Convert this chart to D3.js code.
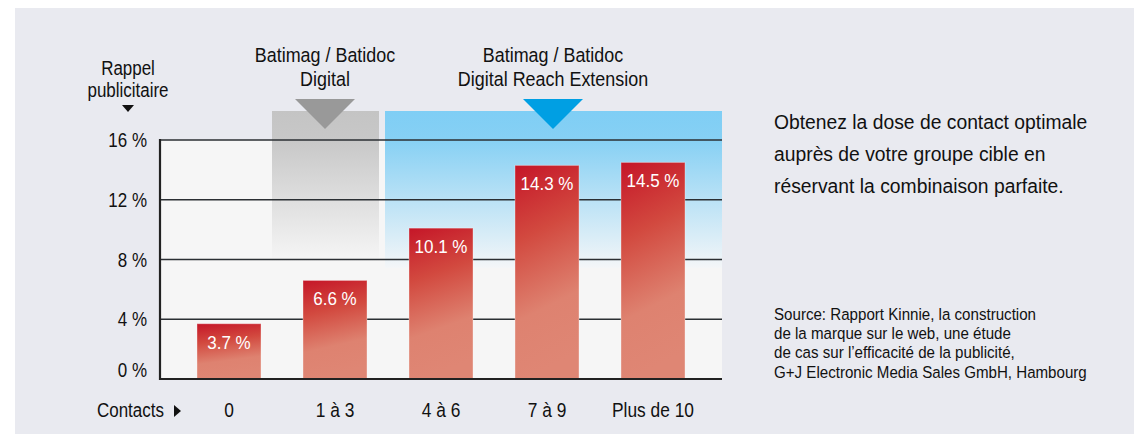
<!DOCTYPE html>
<html>
<head>
<meta charset="utf-8">
<script src="https://cdn.jsdelivr.net/npm/d3@7"></script>
<style>
  body { margin: 0; background: #fff; }
  svg text { font-family: "Liberation Sans", Arial, sans-serif; }
</style>
</head>
<body>
<svg></svg>
<script>
const categories = ['0', '1 à 3', '4 à 6', '7 à 9', 'Plus de 10'];
const values = [3.7, 6.6, 10.1, 14.3, 14.5];
const yTicks = [0, 4, 8, 12, 16];
const yTitle = ['Rappel', 'publicitaire'];
const grayTitle = ['Batimag / Batidoc', 'Digital'];
const blueTitle = ['Batimag / Batidoc', 'Digital Reach Extension'];
const sideText = ['Obtenez la dose de contact optimale', 'auprès de votre groupe cible en', 'réservant la combinaison parfaite.'];
const sourceText = ['Source: Rapport Kinnie, la construction', 'de la marque sur le web, une étude', 'de cas sur l’efficacité de la publicité,', 'G+J Electronic Media Sales GmbH, Hambourg'];

const width = 1135;
const height = 434;
const plot = { left: 160, right: 722, top: 140, bottom: 379 };

const svg = d3.select('svg').attr('width', width).attr('height', height);
const defs = svg.append('defs');

// condensed-looking text: taller font squeezed horizontally
function label(parent, px, py, lines, size, sx, opts = {}) {
  const t = parent.append('text')
    .attr('transform', 'translate(' + px + ',' + py + ') scale(' + sx + ',1)')
    .attr('text-anchor', opts.anchor || 'start')
    .attr('fill', opts.fill || '#111')
    .style('font-size', size + 'px');
  [].concat(lines).forEach((d, i) => {
    t.append('tspan').attr('x', 0).attr('dy', i ? (opts.lead || size * 1.2) : 0).text(d);
  });
  return t;
}

// background panel
svg.append('rect').attr('x', 15).attr('y', 8).attr('width', 1119).attr('height', height - 8).attr('fill', '#e9eaf0');

const x = d3.scaleBand().domain(categories).range([176, 706]).paddingInner(0.396).paddingOuter(0.198);
const y = d3.scaleLinear().domain([0, 16]).range([plot.bottom, plot.top]);

// gradients
const gGray = defs.append('linearGradient').attr('id', 'gray').attr('gradientUnits', 'userSpaceOnUse')
  .attr('x1', 0).attr('x2', 0).attr('y1', 111).attr('y2', 262);
gGray.append('stop').attr('offset', 0).attr('stop-color', '#c4c4c4');
gGray.append('stop').attr('offset', 0.2).attr('stop-color', '#c8c8c8');
gGray.append('stop').attr('offset', 1).attr('stop-color', '#f6f6f6');

const gBlue = defs.append('linearGradient').attr('id', 'blue').attr('gradientUnits', 'userSpaceOnUse')
  .attr('x1', 0).attr('x2', 0).attr('y1', 111).attr('y2', 268);
gBlue.append('stop').attr('offset', 0).attr('stop-color', '#7fcef5');
gBlue.append('stop').attr('offset', 0.18).attr('stop-color', '#86d0f4');
gBlue.append('stop').attr('offset', 1).attr('stop-color', '#f4f6f8');

const gBar = defs.append('linearGradient').attr('id', 'bar')
  .attr('x1', 0).attr('x2', 0.15).attr('y1', 0).attr('y2', 1);
gBar.append('stop').attr('offset', 0).attr('stop-color', '#c51628');
gBar.append('stop').attr('offset', 0.35).attr('stop-color', '#d2493f');
gBar.append('stop').attr('offset', 0.72).attr('stop-color', '#de8270');
gBar.append('stop').attr('offset', 1).attr('stop-color', '#df8674');

// plot background
svg.append('rect').attr('x', plot.left).attr('y', plot.top)
  .attr('width', plot.right - plot.left).attr('height', plot.bottom - plot.top).attr('fill', '#f6f6f6');

// highlight bands
svg.append('rect').attr('x', 272).attr('y', 111).attr('width', 107).attr('height', 151).attr('fill', 'url(#gray)');
svg.append('rect').attr('x', 385).attr('y', 111).attr('width', plot.right - 385).attr('height', 157).attr('fill', 'url(#blue)');

// gridlines
svg.append('g').selectAll('line').data(yTicks.filter(d => d > 0)).join('line')
  .attr('x1', plot.left).attr('x2', plot.right)
  .attr('y1', d => y(d)).attr('y2', d => y(d))
  .attr('stroke', '#2b2f33').attr('stroke-width', 1.5);

// bars
svg.append('g').selectAll('rect').data(values).join('rect')
  .attr('x', (d, i) => x(categories[i]))
  .attr('y', d => y(d))
  .attr('width', x.bandwidth())
  .attr('height', d => plot.bottom - y(d))
  .attr('fill', 'url(#bar)')
  .attr('stroke', 'rgba(255,255,255,0.35)').attr('stroke-width', 1);

const barLabels = svg.append('g');
values.forEach((d, i) => {
  label(barLabels, x(categories[i]) + x.bandwidth() / 2, y(d) + 25, d3.format('.1f')(d) + ' %', 18.5, 0.92,
    { anchor: 'middle', fill: '#fff' });
});

// axes lines
svg.append('line').attr('x1', plot.left).attr('x2', plot.left).attr('y1', plot.top - 1).attr('y2', plot.bottom + 1)
  .attr('stroke', '#222').attr('stroke-width', 2.2);
svg.append('line').attr('x1', plot.left - 1).attr('x2', plot.right).attr('y1', plot.bottom).attr('y2', plot.bottom)
  .attr('stroke', '#222').attr('stroke-width', 2.2);

// y tick labels
const yLabels = svg.append('g');
yTicks.forEach(d => {
  label(yLabels, 147, y(d) + (d === 0 ? -2 : 7), d + ' %', 19.5, 0.87, { anchor: 'end' });
});

// y title
label(svg, 128, 75, yTitle, 19.5, 0.87, { anchor: 'middle', lead: 22 });
svg.append('path').attr('d', d3.line()([[122, 105], [134, 105], [128, 112]])).attr('fill', '#111');

// x labels
const xLabels = svg.append('g');
categories.forEach(d => {
  label(xLabels, x(d) + x.bandwidth() / 2, 417, d, 19.5, 0.89, { anchor: 'middle' });
});
label(svg, 97, 417, 'Contacts', 19.5, 0.87);
svg.append('path').attr('d', d3.line()([[174, 405], [181, 411], [174, 417]])).attr('fill', '#111');

// band titles and markers
function bandTitle(lines, cx, color) {
  label(svg, cx, 62, lines, 19.5, 0.92, { anchor: 'middle', lead: 24 });
  svg.append('path').attr('d', d3.line()([[cx - 30, 99], [cx + 30, 99], [cx, 129]])).attr('fill', color);
}
bandTitle(grayTitle, 325, '#999999');
bandTitle(blueTitle, 553, '#009fe3');

// side texts
label(svg, 774, 129, sideText, 21, 0.92, { lead: 32 });
label(svg, 774, 320, sourceText, 16.8, 0.9, { lead: 19.2 });
</script>
</body>
</html>
